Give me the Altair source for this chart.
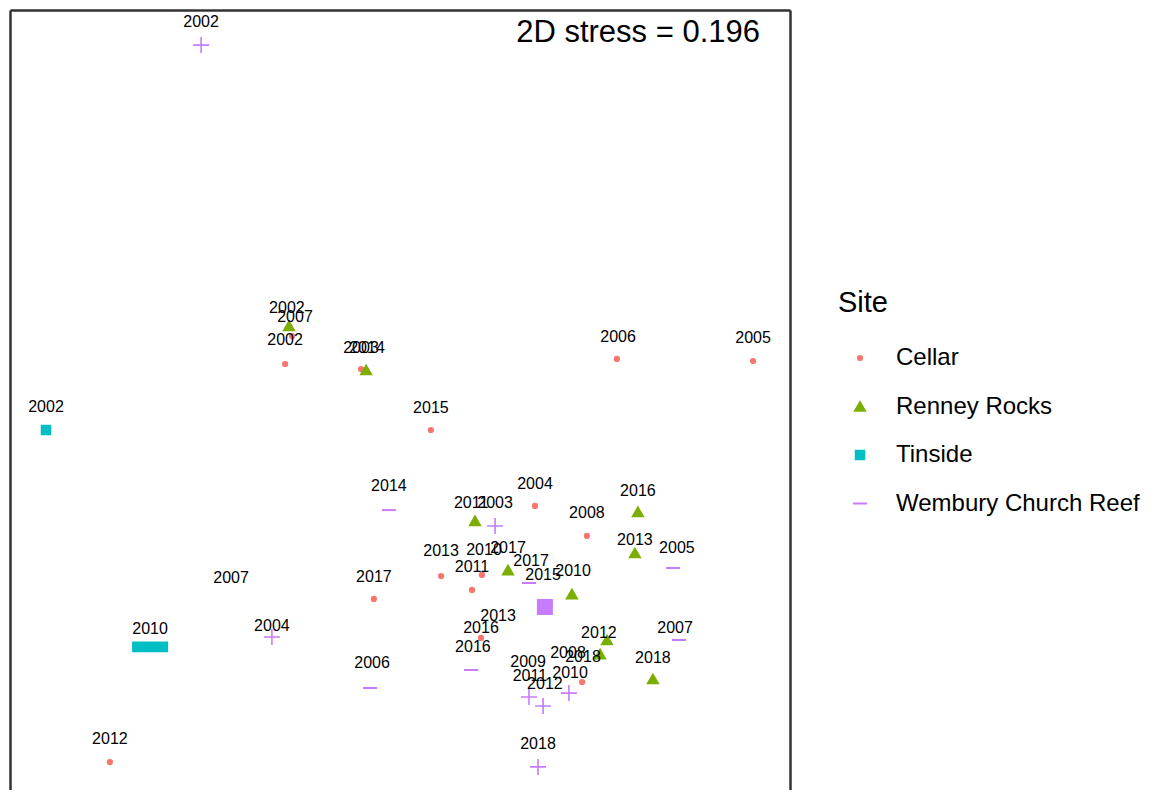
import altair as alt
import pandas as pd

FONT = "Liberation Sans, Arial, sans-serif"

sites = ["Cellar", "Renney Rocks", "Tinside", "Wembury Church Reef"]
site_colors = ["#F8766D", "#7CAE00", "#00BFC4", "#C77CFF"]
site_shapes = ["circle", "triangle-up", "square", "stroke"]
site_sizes = [18, 100, 72, 196]

# NMDS coordinates
cellar_x = [-0.383, -0.360, -0.130, 0.723, 1.177, 0.103, 0.450, 0.623, 0.137, 0.273, 0.240, -0.087, 0.270, -0.967, 0.607]
cellar_y = [0.120, 0.213, 0.103, 0.137, 0.130, -0.100, -0.353, -0.453, -0.587, -0.583, -0.633, -0.663, -0.793, -1.207, -0.940]

renney_x = [-0.370, -0.113, 0.250, 0.360, 0.793, 0.783, 0.573, 0.690, 0.667, 0.843]
renney_y = [0.247, 0.100, -0.403, -0.567, -0.373, -0.510, -0.647, -0.800, -0.847, -0.930]

tinside_x = [-1.180]
tinside_y = [-0.100]
tinside_bar_x = [-0.833]
tinside_bar_y = [-0.823]

wembury_dash_x = [-0.037, 0.430, 0.910, 0.930, -0.100, 0.237]
wembury_dash_y = [-0.367, -0.610, -0.560, -0.800, -0.960, -0.900]
wembury_cross_x = [-0.663, 0.317, -0.427, 0.430, 0.477, 0.563, 0.460]
wembury_cross_y = [1.183, -0.420, -0.790, -0.990, -1.020, -0.977, -1.223]
wembury_big_x = [0.483]
wembury_big_y = [-0.690]

label_text = ["2002", "2007", "2002", "2003", "2014", "2006", "2005", "2015", "2002", "2004",
              "2014", "2011", "2003", "2016", "2008", "2013", "2005", "2013", "2010", "2017",
              "2017", "2011", "2015", "2010", "2007", "2017", "2013", "2016", "2004", "2010",
              "2007", "2012", "2016", "2008", "2018", "2018", "2006", "2009", "2011", "2010",
              "2012", "2012", "2018", "2002"]
label_x = [-0.383, -0.350, -0.377, -0.130, -0.110, 0.727, 1.177, 0.103, -1.180, 0.450,
           -0.037, 0.237, 0.317, 0.793, 0.623, 0.783, 0.923, 0.137, 0.280, 0.360,
           0.437, 0.240, 0.477, 0.577, -0.563, -0.087, 0.327, 0.270, -0.427, -0.833,
           0.917, 0.663, 0.243, 0.560, 0.610, 0.843, -0.093, 0.427, 0.433, 0.567,
           0.483, -0.967, 0.460, -0.663]
label_y = [0.200, 0.277, 0.307, 0.173, 0.173, 0.210, 0.207, -0.027, -0.023, -0.280,
           -0.287, -0.343, -0.343, -0.303, -0.377, -0.467, -0.493, -0.503, -0.500, -0.493,
           -0.537, -0.557, -0.583, -0.570, -0.593, -0.590, -0.720, -0.760, -0.753, -0.763,
           -0.760, -0.777, -0.823, -0.843, -0.857, -0.860, -0.877, -0.873, -0.920, -0.910,
           -0.947, -1.130, -1.147, 1.260]

stress_text = ["2D stress = 0.196"]
stress_x = [1.2]
stress_y = [1.223]

x_domain = [-1.3, 1.3]
y_domain = [-1.3, 1.3]

main_df = pd.DataFrame({
    "x": cellar_x + renney_x + tinside_x + wembury_dash_x,
    "y": cellar_y + renney_y + tinside_y + wembury_dash_y,
    "Site": ["Cellar"] * len(cellar_x) + ["Renney Rocks"] * len(renney_x)
            + ["Tinside"] * len(tinside_x) + ["Wembury Church Reef"] * len(wembury_dash_x),
})
cross_df = pd.DataFrame({"x": wembury_cross_x, "y": wembury_cross_y})
big_df = pd.DataFrame({"x": wembury_big_x, "y": wembury_big_y})
bar_df = pd.DataFrame({"x": tinside_bar_x, "y": tinside_bar_y})
label_df = pd.DataFrame({"x": label_x, "y": label_y, "label": label_text})
stress_df = pd.DataFrame({"x": stress_x, "y": stress_y, "t": stress_text})

xs = alt.Scale(domain=x_domain, nice=False, zero=False)
ys = alt.Scale(domain=y_domain, nice=False, zero=False)
frame_axis = dict(domain=True, domainColor="#333333", domainWidth=2.5, ticks=False,
                  labels=False, title=None, grid=False)
x_axis = alt.Axis(orient="top", **frame_axis)


def xenc():
    return alt.X("x:Q", scale=xs, axis=x_axis)


main = alt.Chart(main_df).mark_point(filled=True, opacity=1, strokeWidth=2).encode(
    x=xenc(),
    y=alt.Y("y:Q", scale=ys, axis=alt.Axis(orient="left", **frame_axis)),
    color=alt.Color("Site:N", scale=alt.Scale(domain=sites, range=site_colors), title="Site"),
    stroke=alt.Stroke("Site:N", scale=alt.Scale(domain=sites, range=site_colors), title="Site"),
    shape=alt.Shape("Site:N", scale=alt.Scale(domain=sites, range=site_shapes), title="Site"),
    size=alt.Size("Site:N", scale=alt.Scale(type="ordinal", domain=sites, range=site_sizes), title="Site"),
)

cross = alt.Chart(cross_df).mark_point(filled=False, opacity=1, strokeWidth=1.6,
                                       color=site_colors[3],
                                       shape="M-1,0H1M0,-1V1", size=256).encode(
    x=xenc(),
    y=alt.Y("y:Q", scale=ys, axis=None),
)

big = alt.Chart(big_df).mark_point(filled=True, opacity=1, strokeWidth=0,
                                   color=site_colors[3],
                                   shape="square", size=256).encode(
    x=xenc(),
    y=alt.Y("y:Q", scale=ys, axis=None),
)

bar = alt.Chart(bar_df).mark_point(filled=True, opacity=1, strokeWidth=0,
                                   color=site_colors[2],
                                   shape="M-1,-0.3H1V0.3H-1Z", size=1296).encode(
    x=xenc(),
    y=alt.Y("y:Q", scale=ys, axis=None),
)

labels = alt.Chart(label_df).mark_text(font=FONT, fontSize=16, color="#000000",
                                       baseline="middle", align="center").encode(
    x=xenc(),
    y=alt.Y("y:Q", scale=ys, axis=alt.Axis(orient="right", **frame_axis)),
    text="label:N",
)

stress = alt.Chart(stress_df).mark_text(font=FONT, fontSize=31, color="#000000",
                                        baseline="middle", align="right").encode(
    x=xenc(),
    y=alt.Y("y:Q", scale=ys, axis=None),
    text="t:N",
)

chart = alt.layer(main, cross, big, bar, labels, stress).resolve_axis(
    y="independent"
).properties(
    width=780, height=780,
    padding={"left": 2, "top": 2, "right": 359, "bottom": 0},
    autosize=alt.AutoSizeParams(type="none"),
).configure_view(stroke=None).configure_legend(
    orient="none", legendX=828, legendY=279, padding=0,
    titleFont=FONT, titleFontSize=29, titleFontWeight="normal", titleColor="#000000",
    titlePadding=28,
    labelFont=FONT, labelFontSize=24, labelColor="#000000", labelOffset=24, labelLimit=400,
    symbolOffset=10, rowPadding=24.5, symbolStrokeWidth=2, symbolOpacity=1,
)

chart.save("out.html", embed_options={"renderer": "svg", "actions": False})
